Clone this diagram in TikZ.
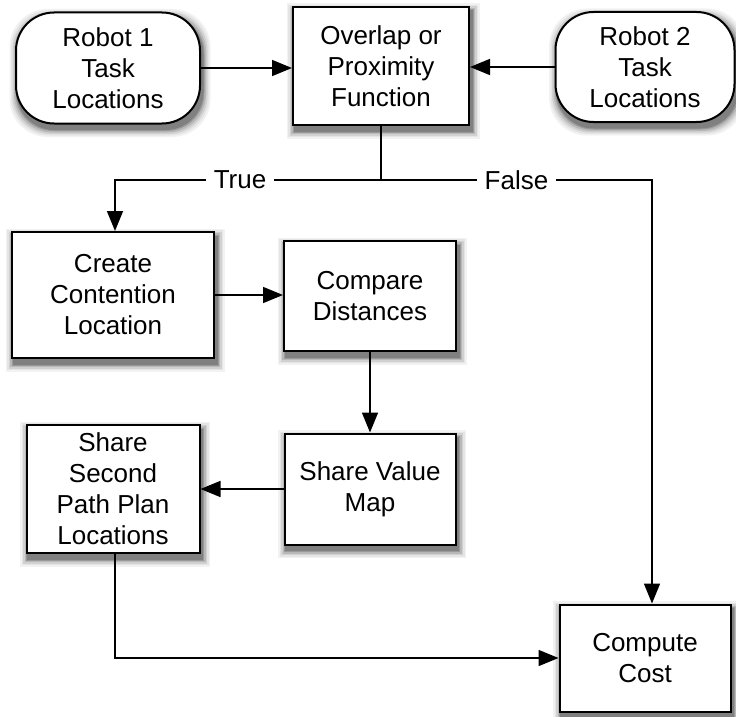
\documentclass[tikz,border=0pt]{standalone}
\usepackage{fontspec}
\setmainfont{Liberation Sans}
\usetikzlibrary{arrows.meta,backgrounds}
% soft drop shade behind a node: #1 node name, #2 corner radius
\newcommand\dropshade[2]{%
  \begin{pgfonlayer}{background}
    \foreach \e/\c in {7.5/5,6/10,4.5/18,3/28,1.5/40,0.5/50} {
      \fill[black!\c, rounded corners=#2]
        ([shift={(2-\e,5-\e)}]#1.north west) rectangle ([shift={(2+\e,5+\e)}]#1.south east);
    }
  \end{pgfonlayer}}
\begin{document}
\begin{tikzpicture}[x=1pt,y=-1pt,
  every node/.style={font=\fontsize{26}{31}\selectfont, align=center},
  box/.style={draw, line width=2pt, fill=white, inner sep=0pt},
  term/.style={box, rounded corners=38pt},
  arr/.style={line width=1.6pt, -{Triangle[length=20pt,width=16pt]}},
  ln/.style={line width=1.6pt},
  lbl/.style={fill=white, inner xsep=8pt, inner ysep=2pt}]
\useasboundingbox (0,0) rectangle (736,717);

% source terminals and the test
\node[term, minimum width=184pt, minimum height=111pt] (r1) at (108,68) {Robot 1\\Task\\Locations};
\node[box, minimum width=176pt, minimum height=118pt] (ov) at (381,66) {Overlap or\\Proximity\\Function};
\node[term, minimum width=179pt, minimum height=110pt] (r2) at (645,67) {Robot 2\\Task\\Locations};

% process steps
\node[box, minimum width=202pt, minimum height=126pt] (cr) at (113,295) {Create\\Contention\\Location};
\node[box, minimum width=172pt, minimum height=110pt] (cd) at (370,296) {Compare\\Distances};
\node[box, minimum width=171pt, minimum height=111pt] (sv) at (370,489) {Share Value\\Map};
\node[box, minimum width=173pt, minimum height=128pt] (ss) at (113,489) {Share\\Second\\Path Plan\\Locations};
\node[box, minimum width=171pt, minimum height=107pt] (cc) at (645,658) {Compute\\Cost};

% shades under every shape
\dropshade{r1}{38pt}
\dropshade{r2}{38pt}
\foreach \n in {ov,cr,cd,sv,ss,cc} {\dropshade{\n}{0pt}}

% branch points
\coordinate (split) at (381,180);
\coordinate (tl) at (115,180);
\coordinate (tr) at (652,180);

\draw[arr] (r1.east) -- (r1.east -| ov.west);
\draw[arr] (r2.west) -- (r2.west -| ov.east);
\draw[ln] (ov.south) -- (split);
\draw[arr] (split) -- node[lbl, pos=0.53] {True} (tl) -- (tl |- cr.north);
\draw[arr] (split) -- node[lbl, pos=0.5] {False} (tr) -- (tr |- cc.north);
\draw[arr] (cr.east) -- (cr.east -| cd.west);
\draw[arr] (cd.south) -- (sv.north);
\draw[arr] (sv.west) -- (ss.east);
\draw[arr] (ss.south -| tl) |- (cc.west);
\end{tikzpicture}
\end{document}
